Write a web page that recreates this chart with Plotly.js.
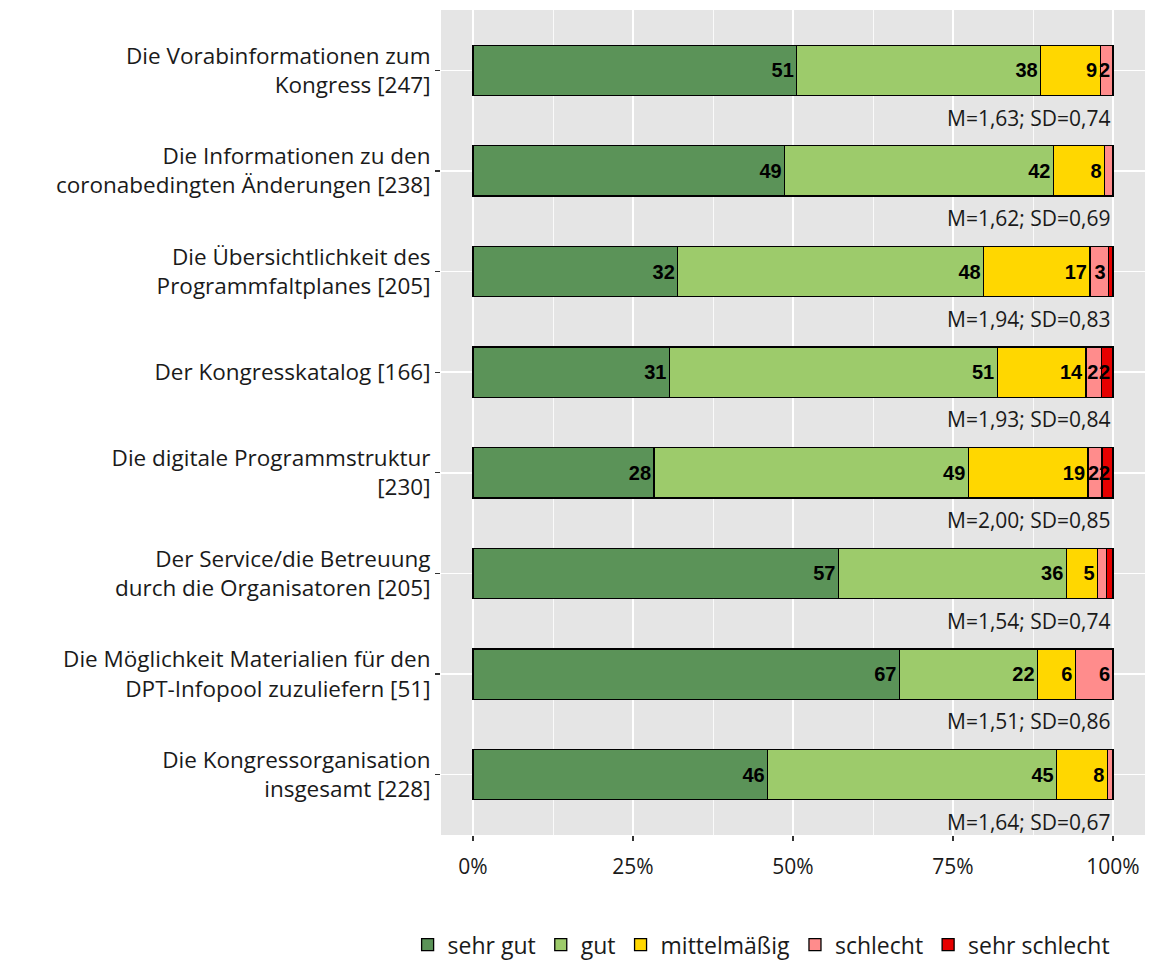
<!DOCTYPE html>
<html>
<head>
<meta charset="utf-8">
<script src="https://cdn.plot.ly/plotly-3.0.1.min.js"></script>
<style>html,body{margin:0;padding:0;background:#fff;}#chart{width:1162px;height:963px;}</style>
</head>
<body>
<div id="chart"></div>
<script>
const categories = [
  "Die Vorabinformationen zum<br>Kongress [247]",
  "Die Informationen zu den<br>coronabedingten Änderungen [238]",
  "Die Übersichtlichkeit des<br>Programmfaltplanes [205]",
  "Der Kongresskatalog [166]",
  "Die digitale Programmstruktur<br>[230]",
  "Der Service/die Betreuung<br>durch die Organisatoren [205]",
  "Die Möglichkeit Materialien für den<br>DPT-Infopool zuzuliefern [51]",
  "Die Kongressorganisation<br>insgesamt [228]"
];
const seriesNames = ["sehr gut", "gut", "mittelmäßig", "schlecht", "sehr schlecht"];
const sehrGut      = [50.6, 48.7, 32.0, 30.7, 28.3, 57.1, 66.7, 46.1];
const gut          = [38.1, 42.0, 47.8, 51.2, 49.1, 35.6, 21.6, 45.2];
const mittelmaessig= [9.3,  8.0,  16.6, 13.9, 18.7, 4.9,  5.9,  7.9];
const schlecht     = [2.0,  1.3,  2.9,  2.4,  2.2,  1.4,  5.9,  0.9];
const sehrSchlecht = [0.0,  0.0,  0.7,  1.8,  1.7,  1.0,  0.0,  0.0];
const means = [1.63, 1.62, 1.94, 1.93, 2.00, 1.54, 1.51, 1.64];
const sds   = [0.74, 0.69, 0.83, 0.84, 0.85, 0.74, 0.86, 0.67];
const colors = ["#5B9358", "#9DCB6B", "#FFD700", "#FF8C8C", "#E60000"];
const xTickVals = [0, 25, 50, 75, 100];
const xTickText = ["0%", "25%", "50%", "75%", "100%"];

const series = [sehrGut, gut, mittelmaessig, schlecht, sehrSchlecht];
const textFont = "Open Sans, Lato, sans-serif";

const traces = series.map((vals, k) => ({
  type: "bar",
  orientation: "h",
  name: seriesNames[k],
  y: categories,
  x: vals,
  width: 0.5,
  marker: {color: colors[k], line: {color: "#000", width: 1.3}},
  text: vals.map(v => Math.round(v) >= 2 ? String(Math.round(v)) : ""),
  textposition: "inside",
  insidetextanchor: "end",
  textangle: 0,
  insidetextfont: {family: "Liberation Sans, Arial, sans-serif", size: 20, color: "#000", weight: "bold"},
  cliponaxis: false,
  hoverinfo: "skip"
}));

const annotations = categories.map((c, i) => ({
  x: 100, xref: "x",
  y: i + 0.47, yref: "y",
  text: "M=" + means[i].toFixed(2).replace(".", ",") + "; SD=" + sds[i].toFixed(2).replace(".", ","),
  showarrow: false,
  xanchor: "right", yanchor: "middle",
  font: {family: textFont, size: 21, color: "#1a1a1a"}
}));

const layout = {
  width: 1162, height: 963,
  margin: {l: 441, r: 17, t: 10, b: 128, autoexpand: false},
  paper_bgcolor: "#fff",
  plot_bgcolor: "#E5E5E5",
  barmode: "stack",
  barnorm: "percent",
  bargap: 0.5,
  uniformtext: {mode: "show", minsize: 20},
  showlegend: true,
  legend: {
    orientation: "h", xref: "container", yref: "container",
    x: 0.655, xanchor: "center", y: 0.019, yanchor: "middle",
    font: {family: textFont, size: 23, color: "#1a1a1a"},
    traceorder: "normal", itemwidth: 30
  },
  xaxis: {
    range: [-5, 105],
    tickvals: xTickVals, ticktext: xTickText,
    showgrid: true, gridcolor: "#fff", gridwidth: 1.6,
    minor: {dtick: 12.5, tick0: 0, showgrid: true, gridcolor: "#fff", gridwidth: 0.8},
    zeroline: false, showline: false,
    ticks: "outside", ticklen: 5, tickcolor: "#333", tickwidth: 1.2,
    ticklabelstandoff: 8,
    tickfont: {family: textFont, size: 21, color: "#1a1a1a"},
    fixedrange: true
  },
  yaxis: {
    type: "category",
    categoryorder: "array", categoryarray: categories,
    range: [7.6, -0.6],
    showgrid: true, gridcolor: "#fff", gridwidth: 1.6,
    zeroline: false, showline: false,
    ticks: "outside", ticklen: 5, tickcolor: "#333", tickwidth: 1.2,
    tickfont: {family: textFont, size: 22.5, color: "#1a1a1a"},
    fixedrange: true
  },
  annotations: annotations
};

Plotly.newPlot("chart", traces, layout, {displayModeBar: false, staticPlot: true});
</script>
</body>
</html>
